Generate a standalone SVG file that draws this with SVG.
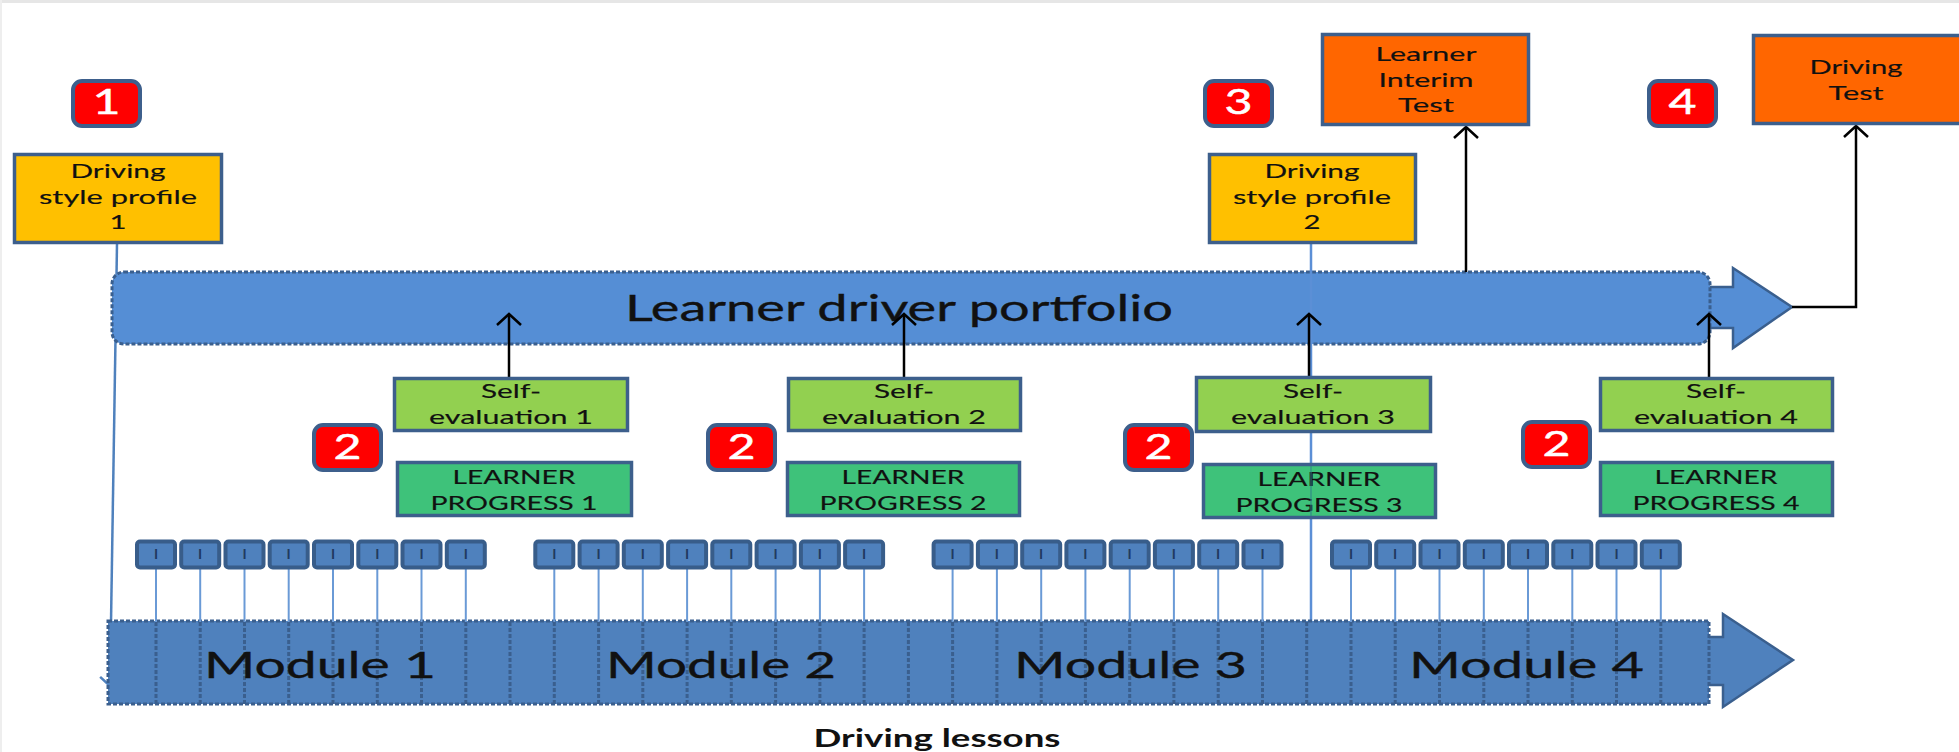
<svg xmlns="http://www.w3.org/2000/svg" xmlns:xlink="http://www.w3.org/1999/xlink" width="1959" height="752" viewBox="0 0 1959 752">
<style>
.t{font-family:Lato,"Liberation Sans",sans-serif;fill:#111;text-anchor:middle;font-size:20px;stroke:#111;stroke-width:0.15}
.box{stroke:#3D5F8C;stroke-width:3.5}
.yel{fill:#FFC000}
.org{fill:#FF6600}
.lg{fill:#92D050}
.dg{fill:#3EC27A}
.bd rect{fill:#FF0000;stroke:#3D5F8C;stroke-width:4}
.bd text{font-family:Lato,"Liberation Sans",sans-serif;fill:#fff;stroke:#fff;stroke-width:0.5;font-size:35px;text-anchor:middle}
.arr{stroke:#000;stroke-width:2.5;fill:none;marker-end:url(#ah)}
.dot{fill:none;stroke:#3A5F8E;stroke-width:3;stroke-dasharray:4 2}
.stem{stroke:#6A9AD6;stroke-width:2}
.mod{font-family:Lato,"Liberation Sans",sans-serif;fill:#111;stroke:#111;stroke-width:0.35;font-size:37px}
</style>
<defs>
<marker id="ah" markerUnits="userSpaceOnUse" markerWidth="30" markerHeight="30" viewBox="-14 -15 16 30" refX="0" refY="0" orient="auto">
<path d="M-11,-12 L0,0 L-11,12" fill="none" stroke="#000" stroke-width="2.5"/>
</marker>
<marker id="bh" markerUnits="userSpaceOnUse" markerWidth="30" markerHeight="30" viewBox="-14 -15 16 30" refX="0" refY="0" orient="auto">
<path d="M-9,-10 L0,0 L-9,10" fill="none" stroke="#4F81BD" stroke-width="2.5"/>
</marker>
<g id="lessonTpl">
<line class="stem" x1="0" y1="567" x2="0" y2="622"/>
<rect x="-19" y="541.5" width="38" height="26" rx="3" fill="#4F81BD" stroke="#385D8A" stroke-width="4"/>
<text x="0" y="559" font-family="Lato,'Liberation Sans',sans-serif" font-size="14" font-weight="bold" fill="#1F3A60" text-anchor="middle">I</text>
</g>
</defs>

<rect x="0" y="0" width="1959" height="752" fill="#fff"/>
<rect x="0" y="0" width="1959" height="3" fill="#e6e6e6"/>
<rect x="0" y="0" width="2" height="752" fill="#eeeeee"/>

<!-- connectors under bars -->
<g id="connectors-under">
<path d="M117,244 L110,686" stroke="#4F81BD" stroke-width="2.5" fill="none" marker-end="url(#bh)"/>
<path d="M1311,433 V690" stroke="#5B8FD6" stroke-width="2.5" fill="none"/>
</g>

<!-- Learner driver portfolio -->
<g id="portfolio">
<polygon points="1700,287 1733,287 1733,268 1792,307 1733,348 1733,328 1700,328" fill="#558ED5" stroke="#3A5F8E" stroke-width="2.5"/>
<rect x="112" y="272" width="1598" height="72" rx="12" fill="#558ED5"/>
<rect x="112" y="272" width="1598" height="72" rx="12" class="dot"/>
<text x="625" y="321" class="mod" font-size="38" textLength="548" lengthAdjust="spacingAndGlyphs">Learner driver portfolio</text>
</g>

<!-- Module bar -->
<g id="modules">
<polygon points="1700,637 1723,637 1723,614 1793,660 1723,707 1723,685 1700,685" fill="#4F81BD" stroke="#3A5F8E" stroke-width="2.5"/>
<rect x="108" y="621" width="1601" height="83" fill="#4F81BD"/>
<path class="dot" d="M156,622V704M200.2,622V704M244.5,622V704M288.7,622V704M333,622V704M377.3,622V704M421.5,622V704M465.8,622V704M510,622V704M554.3,622V704M598.6,622V704M642.8,622V704M687.1,622V704M731.3,622V704M775.6,622V704M819.9,622V704M864.1,622V704M908.4,622V704M952.6,622V704M996.9,622V704M1041.2,622V704M1085.4,622V704M1129.7,622V704M1173.9,622V704M1218.2,622V704M1262.5,622V704M1306.7,622V704M1351,622V704M1395.2,622V704M1439.5,622V704M1483.8,622V704M1528,622V704M1572.3,622V704M1616.5,622V704M1660.8,622V704"/>
<rect x="108" y="621" width="1601" height="83" class="dot"/>
<text class="mod" x="204" y="678" textLength="232" lengthAdjust="spacingAndGlyphs">Module 1</text>
<text class="mod" x="606" y="678" textLength="230" lengthAdjust="spacingAndGlyphs">Module 2</text>
<text class="mod" x="1014" y="678" textLength="233" lengthAdjust="spacingAndGlyphs">Module 3</text>
<text class="mod" x="1409" y="678" textLength="235" lengthAdjust="spacingAndGlyphs">Module 4</text>
</g>

<!-- Lessons -->
<g id="lessons">
<use href="#lessonTpl" x="156"/><use href="#lessonTpl" x="200.2"/><use href="#lessonTpl" x="244.5"/><use href="#lessonTpl" x="288.7"/><use href="#lessonTpl" x="333"/><use href="#lessonTpl" x="377.3"/><use href="#lessonTpl" x="421.5"/><use href="#lessonTpl" x="465.8"/>
<use href="#lessonTpl" x="554.3"/><use href="#lessonTpl" x="598.6"/><use href="#lessonTpl" x="642.8"/><use href="#lessonTpl" x="687.1"/><use href="#lessonTpl" x="731.3"/><use href="#lessonTpl" x="775.6"/><use href="#lessonTpl" x="819.9"/><use href="#lessonTpl" x="864.1"/>
<use href="#lessonTpl" x="952.6"/><use href="#lessonTpl" x="996.9"/><use href="#lessonTpl" x="1041.2"/><use href="#lessonTpl" x="1085.4"/><use href="#lessonTpl" x="1129.7"/><use href="#lessonTpl" x="1173.9"/><use href="#lessonTpl" x="1218.2"/><use href="#lessonTpl" x="1262.5"/>
<use href="#lessonTpl" x="1351"/><use href="#lessonTpl" x="1395.2"/><use href="#lessonTpl" x="1439.5"/><use href="#lessonTpl" x="1483.8"/><use href="#lessonTpl" x="1528"/><use href="#lessonTpl" x="1572.3"/><use href="#lessonTpl" x="1616.5"/><use href="#lessonTpl" x="1660.8"/>
</g>

<!-- Connectors -->
<g id="connectors">
<path d="M1311,244 V376" stroke="#5B8FD6" stroke-width="2.5" fill="none"/>
<path class="arr" d="M509,377 V314"/>
<path class="arr" d="M904,377 V314"/>
<path class="arr" d="M1309,376 V314"/>
<path class="arr" d="M1709,377 V314"/>
<path class="arr" d="M1466,272 V127"/>
<path class="arr" d="M1792,307 H1856 V126"/>
</g>

<!-- Profiles -->
<g id="profile1">
<rect class="box yel" x="14.5" y="154.5" width="207" height="88"/>
<text class="t" x="118" y="178" textLength="95" lengthAdjust="spacingAndGlyphs">Driving</text>
<text class="t" x="118" y="203.5" textLength="158" lengthAdjust="spacingAndGlyphs">style profile</text>
<text class="t" x="118" y="229" textLength="17" lengthAdjust="spacingAndGlyphs">1</text>
</g>
<g id="profile2">
<rect class="box yel" x="1209.5" y="154.5" width="206" height="88"/>
<text class="t" x="1312" y="178" textLength="95" lengthAdjust="spacingAndGlyphs">Driving</text>
<text class="t" x="1312" y="203.5" textLength="158" lengthAdjust="spacingAndGlyphs">style profile</text>
<text class="t" x="1312" y="229" textLength="17" lengthAdjust="spacingAndGlyphs">2</text>
</g>

<!-- Tests -->
<g id="interim-test">
<rect class="box org" x="1322.5" y="34.5" width="206" height="90"/>
<text class="t" x="1426" y="61" textLength="101" lengthAdjust="spacingAndGlyphs">Learner</text>
<text class="t" x="1426" y="86.5" textLength="95" lengthAdjust="spacingAndGlyphs">Interim</text>
<text class="t" x="1426" y="112" textLength="56" lengthAdjust="spacingAndGlyphs">Test</text>
</g>
<g id="driving-test">
<rect class="box org" x="1753.5" y="35.5" width="220" height="88"/>
<text class="t" x="1856" y="74" textLength="93" lengthAdjust="spacingAndGlyphs">Driving</text>
<text class="t" x="1856" y="100" textLength="55" lengthAdjust="spacingAndGlyphs">Test</text>
</g>

<!-- Self evaluations -->
<g id="self-eval-1">
<rect class="box lg" x="394.5" y="378.5" width="233" height="52"/>
<text class="t" x="511" y="398" textLength="60" lengthAdjust="spacingAndGlyphs">Self-</text>
<text class="t" x="511" y="424" textLength="164" lengthAdjust="spacingAndGlyphs">evaluation 1</text>
</g>
<g id="self-eval-2">
<rect class="box lg" x="788.5" y="378.5" width="232" height="52"/>
<text class="t" x="904" y="398" textLength="60" lengthAdjust="spacingAndGlyphs">Self-</text>
<text class="t" x="904" y="424" textLength="164" lengthAdjust="spacingAndGlyphs">evaluation 2</text>
</g>
<g id="self-eval-3">
<rect class="box lg" x="1196.5" y="377.5" width="234" height="54"/>
<text class="t" x="1313" y="398" textLength="60" lengthAdjust="spacingAndGlyphs">Self-</text>
<text class="t" x="1313" y="424" textLength="164" lengthAdjust="spacingAndGlyphs">evaluation 3</text>
</g>
<g id="self-eval-4">
<rect class="box lg" x="1600.5" y="378.5" width="232" height="52"/>
<text class="t" x="1716" y="398" textLength="60" lengthAdjust="spacingAndGlyphs">Self-</text>
<text class="t" x="1716" y="424" textLength="164" lengthAdjust="spacingAndGlyphs">evaluation 4</text>
</g>

<!-- Learner progress -->
<g id="progress-1">
<rect class="box dg" x="397.5" y="462.5" width="234" height="53"/>
<text class="t" x="514" y="484" textLength="123" lengthAdjust="spacingAndGlyphs">LEARNER</text>
<text class="t" x="514" y="509.5" textLength="167" lengthAdjust="spacingAndGlyphs">PROGRESS 1</text>
</g>
<g id="progress-2">
<rect class="box dg" x="787.5" y="462.5" width="232" height="53"/>
<text class="t" x="903" y="484" textLength="123" lengthAdjust="spacingAndGlyphs">LEARNER</text>
<text class="t" x="903" y="509.5" textLength="167" lengthAdjust="spacingAndGlyphs">PROGRESS 2</text>
</g>
<g id="progress-3">
<rect class="box dg" x="1203.5" y="464.5" width="232" height="53"/>
<text class="t" x="1319" y="486" textLength="123" lengthAdjust="spacingAndGlyphs">LEARNER</text>
<text class="t" x="1319" y="511.5" textLength="167" lengthAdjust="spacingAndGlyphs">PROGRESS 3</text>
<path d="M1311,466 V516" stroke="#2E7F8A" stroke-width="2" stroke-opacity="0.5"/>
</g>
<g id="progress-4">
<rect class="box dg" x="1600.5" y="462.5" width="232" height="53"/>
<text class="t" x="1716" y="484" textLength="123" lengthAdjust="spacingAndGlyphs">LEARNER</text>
<text class="t" x="1716" y="509.5" textLength="167" lengthAdjust="spacingAndGlyphs">PROGRESS 4</text>
</g>

<!-- Badges -->
<g id="badge-1" class="bd"><rect x="73" y="81" width="67" height="45" rx="9"/><text x="106.5" y="114" textLength="28" lengthAdjust="spacingAndGlyphs">1</text></g>
<g id="badge-2a" class="bd"><rect x="314" y="425" width="67" height="45" rx="9"/><text x="347.5" y="459" textLength="28" lengthAdjust="spacingAndGlyphs">2</text></g>
<g id="badge-2b" class="bd"><rect x="708" y="425" width="67" height="45" rx="9"/><text x="741.5" y="459" textLength="28" lengthAdjust="spacingAndGlyphs">2</text></g>
<g id="badge-2c" class="bd"><rect x="1125" y="425" width="67" height="45" rx="9"/><text x="1158.5" y="459" textLength="28" lengthAdjust="spacingAndGlyphs">2</text></g>
<g id="badge-2d" class="bd"><rect x="1523" y="422" width="67" height="45" rx="9"/><text x="1556.5" y="456" textLength="28" lengthAdjust="spacingAndGlyphs">2</text></g>
<g id="badge-3" class="bd"><rect x="1205" y="81" width="67" height="45" rx="9"/><text x="1238.5" y="114" textLength="28" lengthAdjust="spacingAndGlyphs">3</text></g>
<g id="badge-4" class="bd"><rect x="1649" y="81" width="67" height="45" rx="9"/><text x="1682.5" y="114" textLength="28" lengthAdjust="spacingAndGlyphs">4</text></g>

<g id="caption">
<text x="937" y="747" font-family="Lato,'Liberation Sans',sans-serif" font-weight="bold" font-size="25" fill="#111" text-anchor="middle" textLength="247" lengthAdjust="spacingAndGlyphs">Driving lessons</text>
</g>
</svg>
